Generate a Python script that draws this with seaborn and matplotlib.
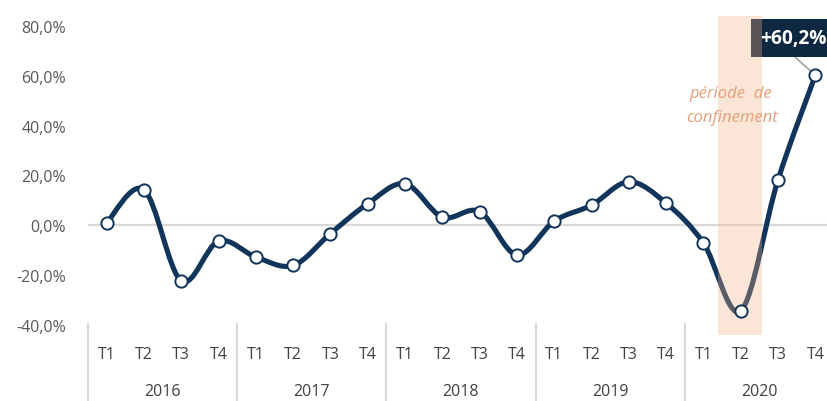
import numpy as np
import pandas as pd
import matplotlib
matplotlib.use("Agg")
import matplotlib.pyplot as plt
import matplotlib.transforms as mtransforms
from matplotlib.path import Path
from matplotlib.patches import PathPatch, Rectangle
import seaborn as sns

years = ["2016", "2017", "2018", "2019", "2020"]
quarters = ["T1", "T2", "T3", "T4"]
values = [1.0, 14.3, -22.3, -6.3,
          -12.7, -16.1, -3.3, 8.7,
          16.7, 3.3, 5.5, -11.9,
          1.7, 8.1, 17.5, 8.9,
          -7.1, -34.3, 18.3, 60.2]
yticks = [-40, -20, 0, 20, 40, 60, 80]
annotation = "+60,2%"
period_label = ["période  de", "confinement"]

NAVY = "#11355a"
BOX = "#0e2841"
GREY_TXT = "#595959"
FS = 11.5

sns.set_theme(style="white")
plt.rcParams['font.family'] = ['Open Sans', 'DejaVu Sans']

fig = plt.figure(figsize=(8.28, 4.02), dpi=100)
ax = fig.add_axes([88 / 828, 76 / 402, 746 / 828, 299 / 402])

labels = [q for _ in years for q in quarters]
df = pd.DataFrame({"x": np.arange(len(values)), "y": values, "label": labels})

# smoothed line (Catmull-Rom -> cubic Bezier) through the data points
x = df["x"].values.astype(float)
y = df["y"].values.astype(float)
n = len(x)
verts = [(x[0], y[0])]
codes = [Path.MOVETO]
for i in range(n - 1):
    p0 = np.array([x[i - 1], y[i - 1]]) if i > 0 else np.array([x[i], y[i]])
    p1 = np.array([x[i], y[i]])
    p2 = np.array([x[i + 1], y[i + 1]])
    p3 = np.array([x[i + 2], y[i + 2]]) if i + 2 < n else p2
    c1 = p1 + (p2 - p0) / 6.0
    c2 = p2 - (p3 - p1) / 6.0
    verts += [tuple(c1), tuple(c2), tuple(p2)]
    codes += [Path.CURVE4] * 3
ax.add_patch(PathPatch(Path(verts, codes), facecolor="none", edgecolor=NAVY,
                       lw=3.7, capstyle="round", joinstyle="round", zorder=2))

ax.axhline(0, color="#d9d9d9", lw=1.6, zorder=1)

# annotation box
ax.add_patch(Rectangle((17.27, 67.6), 2.6, 15.2, facecolor=BOX, edgecolor="none",
                       clip_on=False, zorder=3))
ax.plot([18.45, 19.0], [67.6, 60.2], color="#a6a6a6", lw=1.3, zorder=2.5)

# confinement period shading
ax.add_patch(Rectangle((16.4, -44.0), 1.18, 128.0, facecolor="#f4b183", alpha=0.32,
                       edgecolor="none", clip_on=False, zorder=4))

sns.scatterplot(data=df, x="x", y="y", ax=ax, s=78, color="white",
                edgecolor=NAVY, linewidth=1.4, zorder=5, legend=False)

ax.text(17.53, 75.3, annotation, color="white", fontsize=13.8, fontweight="bold",
        ha="left", va="center", zorder=6)
ax.text(16.74, 53.2, period_label[0], color="#e3a07a", fontsize=12, style="italic",
        ha="center", va="center", zorder=6)
ax.text(16.76, 43.6, period_label[1], color="#e3a07a", fontsize=12, style="italic",
        ha="center", va="center", zorder=6)

ax.set_xlim(-0.5, 19.5)
ax.set_ylim(-40, 80)
ax.set_yticks(yticks)
ax.set_yticklabels([f"{v:.1f}".replace(".", ",") + "%" for v in yticks],
                   color=GREY_TXT, fontsize=FS)
ax.set_xticks(df["x"])
ax.set_xticklabels(df["label"], color="#404040", fontsize=FS)
ax.tick_params(axis="y", length=0, pad=16)
ax.tick_params(axis="x", length=0, pad=15)
ax.set_xlabel("")
ax.set_ylabel("")
for s in ax.spines.values():
    s.set_visible(False)

trans = mtransforms.blended_transform_factory(ax.transData, ax.transAxes)
for b in [-0.5, 3.5, 7.5, 11.5, 15.5, 19.5]:
    ax.plot([b, b], [0.004, -0.26], color="#d9d9d9", lw=1.5, transform=trans,
            clip_on=False, zorder=1)
for k, yr in enumerate(years):
    ax.text(4 * k + 1.5, -0.221, yr, transform=trans, ha="center", va="center",
            color="#404040", fontsize=FS)

fig.savefig("out.png", dpi=100)
